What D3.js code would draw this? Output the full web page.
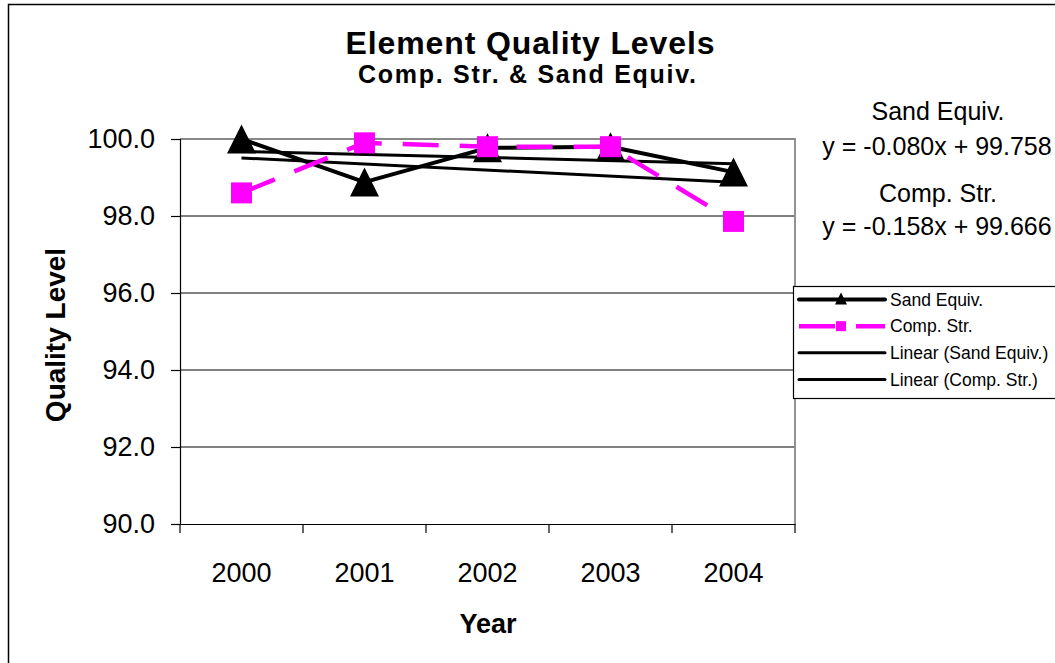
<!DOCTYPE html>
<html>
<head>
<meta charset="utf-8">
<script src="https://cdn.jsdelivr.net/npm/d3@7"></script>
<style>
  body { margin: 0; background: #fff; }
  svg { display: block; font-family: "Liberation Sans", Arial, sans-serif; }
</style>
</head>
<body>
<div id="chart"></div>
<script>
// data
var years = ["2000", "2001", "2002", "2003", "2004"];
var sandEquiv = [100.0, 98.88, 99.77, 99.80, 99.14];
var compStr = [98.60, 99.90, 99.80, 99.80, 97.86];
var yTicks = [90, 92, 94, 96, 98, 100];
var legendLabels = ["Sand Equiv.", "Comp. Str.", "Linear (Sand Equiv.)", "Linear (Comp. Str.)"];
var trendLabels = [
    ["Sand Equiv.", "y = -0.080x + 99.758"],
    ["Comp. Str.", "y = -0.158x + 99.666"]
];

var W = 1055, H = 663;
var plot = { left: 180, right: 795, top: 139, bottom: 524 };

var svg = d3.select("#chart").append("svg")
    .attr("width", W)
    .attr("height", H);

// outer chart frame
svg.append("rect")
    .attr("x", 8.5).attr("y", 4.5)
    .attr("width", 1060).attr("height", 680)
    .attr("fill", "none")
    .attr("stroke", "#000")
    .attr("stroke-width", 1.5);

var x = d3.scaleBand()
    .domain(years)
    .range([plot.left, plot.right])
    .padding(0);
var y = d3.scaleLinear()
    .domain([90, 100])
    .range([plot.bottom, plot.top]);

var cx = function (d, i) { return x(years[i]) + x.bandwidth() / 2; };

// gridlines
svg.append("g")
    .selectAll("line")
    .data(yTicks.filter(function (d) { return d > 90 && d < 100; }))
    .enter().append("line")
    .attr("x1", plot.left).attr("x2", plot.right)
    .attr("y1", function (d) { return y(d); })
    .attr("y2", function (d) { return y(d); })
    .attr("stroke", "#000")
    .attr("stroke-width", 1);

// plot area border (top / right)
svg.append("path")
    .attr("d", "M" + plot.left + "," + y(100) + "H" + plot.right + "V" + plot.bottom)
    .attr("fill", "none")
    .attr("stroke", "#888")
    .attr("stroke-width", 1.8);

// y axis
var yAxis = svg.append("g")
    .attr("transform", "translate(" + plot.left + ",0)")
    .call(d3.axisLeft(y).tickValues(yTicks).tickSize(9).tickPadding(16)
        .tickFormat(d3.format(".1f")));
yAxis.selectAll("text").attr("font-size", 27).attr("fill", "#000")
    .attr("font-family", "Liberation Sans, Arial, sans-serif");
yAxis.selectAll("line, path").attr("stroke", "#000").attr("stroke-width", 1.2);

// x axis
var xAxis = svg.append("g")
    .attr("transform", "translate(0," + plot.bottom + ")")
    .call(d3.axisBottom(x).tickSize(0).tickPadding(39));
xAxis.select(".domain").attr("stroke", "#000").attr("stroke-width", 1.2);
xAxis.selectAll("text").attr("font-size", 27).attr("fill", "#000")
    .attr("font-family", "Liberation Sans, Arial, sans-serif");
// tick marks sit between categories
xAxis.selectAll(".sep")
    .data(years.concat(["end"]))
    .enter().append("line")
    .attr("class", "sep")
    .attr("x1", function (d, i) { return plot.left + i * x.bandwidth(); })
    .attr("x2", function (d, i) { return plot.left + i * x.bandwidth(); })
    .attr("y1", 0).attr("y2", 9)
    .attr("stroke", "#000").attr("stroke-width", 1.2);

// axis titles
svg.append("text")
    .attr("x", 488).attr("y", 633)
    .attr("text-anchor", "middle")
    .attr("font-size", 27).attr("font-weight", "bold")
    .text("Year");
svg.append("text")
    .attr("transform", "translate(65,335) rotate(-90)")
    .attr("text-anchor", "middle")
    .attr("font-size", 28).attr("font-weight", "bold")
    .text("Quality Level");

// titles
svg.append("text")
    .attr("x", 530).attr("y", 54)
    .attr("text-anchor", "middle")
    .attr("font-size", 32).attr("font-weight", "bold")
    .attr("textLength", 369).attr("lengthAdjust", "spacing")
    .text("Element Quality Levels");
svg.append("text")
    .attr("x", 527).attr("y", 83)
    .attr("text-anchor", "middle")
    .attr("font-size", 25).attr("font-weight", "bold")
    .attr("textLength", 338).attr("lengthAdjust", "spacing")
    .text("Comp. Str. & Sand Equiv.");

// linear trend, x = 1..n as in the spreadsheet
function fit(vals) {
    var n = vals.length, xs = d3.range(1, n + 1);
    var mx = d3.mean(xs), my = d3.mean(vals);
    var sxy = d3.sum(xs, function (v, i) { return (v - mx) * (vals[i] - my); });
    var sxx = d3.sum(xs, function (v) { return (v - mx) * (v - mx); });
    var b = sxy / sxx;
    return xs.map(function (v) { return my + b * (v - mx); });
}

var line = d3.line()
    .x(function (d, i) { return cx(d, i); })
    .y(function (d) { return y(d); });

[sandEquiv, compStr].forEach(function (vals) {
    var t = fit(vals);
    svg.append("path")
        .datum([t[0], t[t.length - 1]])
        .attr("d", d3.line()
            .x(function (d, i) { return i === 0 ? cx(null, 0) : cx(null, years.length - 1); })
            .y(function (d) { return y(d); }))
        .attr("fill", "none")
        .attr("stroke", "#000")
        .attr("stroke-width", 3);
});

function triangle(w) {
    return "M0," + (-w / 2) + "L" + (w / 2) + "," + (w / 2) + "L" + (-w / 2) + "," + (w / 2) + "Z";
}

// Sand Equiv. series
svg.append("path")
    .datum(sandEquiv)
    .attr("d", line)
    .attr("fill", "none")
    .attr("stroke", "#000")
    .attr("stroke-width", 4)
    .attr("stroke-linejoin", "round");
svg.append("g").selectAll("path")
    .data(sandEquiv)
    .enter().append("path")
    .attr("d", triangle(29))
    .attr("transform", function (d, i) { return "translate(" + cx(d, i) + "," + y(d) + ")"; })
    .attr("fill", "#000");

// Comp. Str. series
svg.append("path")
    .datum(compStr)
    .attr("d", line)
    .attr("fill", "none")
    .attr("stroke", "#ff00ff")
    .attr("stroke-width", 4.5)
    .attr("stroke-dasharray", "36,21");
svg.append("g").selectAll("rect")
    .data(compStr)
    .enter().append("rect")
    .attr("x", function (d, i) { return cx(d, i) - 10.5; })
    .attr("y", function (d) { return y(d) - 10.5; })
    .attr("width", 21).attr("height", 21)
    .attr("fill", "#ff00ff");

// trend equations
var eq = svg.append("g").attr("font-size", 25).attr("text-anchor", "middle");
var eqY = [[120, 155], [202, 235]];
trendLabels.forEach(function (t, k) {
    eq.append("text").attr("x", 938).attr("y", eqY[k][0]).text(t[0]);
    eq.append("text").attr("x", 937).attr("y", eqY[k][1]).text(t[1]);
});

// legend
var lg = svg.append("g");
lg.append("rect")
    .attr("x", 793.5).attr("y", 286.5)
    .attr("width", 300).attr("height", 112)
    .attr("fill", "#fff")
    .attr("stroke", "#000").attr("stroke-width", 1.2);
var rowY = d3.scalePoint().domain(legendLabels).range([299.5, 379.5]);
var styles = [
    { stroke: "#000", w: 4, dash: null, mark: "tri" },
    { stroke: "#ff00ff", w: 4.5, dash: "36,21", mark: "sq" },
    { stroke: "#000", w: 3, dash: null, mark: null },
    { stroke: "#000", w: 3, dash: null, mark: null }
];
legendLabels.forEach(function (name, i) {
    var yy = rowY(name), s = styles[i];
    lg.append("line")
        .attr("x1", 799).attr("x2", 885)
        .attr("y1", yy).attr("y2", yy)
        .attr("stroke", s.stroke).attr("stroke-width", s.w)
        .attr("stroke-linecap", s.dash ? "butt" : "round")
        .attr("stroke-dasharray", s.dash);
    if (s.mark === "tri") {
        lg.append("path").attr("d", triangle(12))
            .attr("transform", "translate(841," + (yy - 1) + ")")
            .attr("fill", "#000");
    } else if (s.mark === "sq") {
        lg.append("rect")
            .attr("x", 836).attr("y", yy - 5)
            .attr("width", 10).attr("height", 10)
            .attr("fill", "#ff00ff");
    }
    lg.append("text")
        .attr("x", 890).attr("y", yy + 6)
        .attr("font-size", 17.5)
        .text(name);
});
</script>
</body>
</html>
